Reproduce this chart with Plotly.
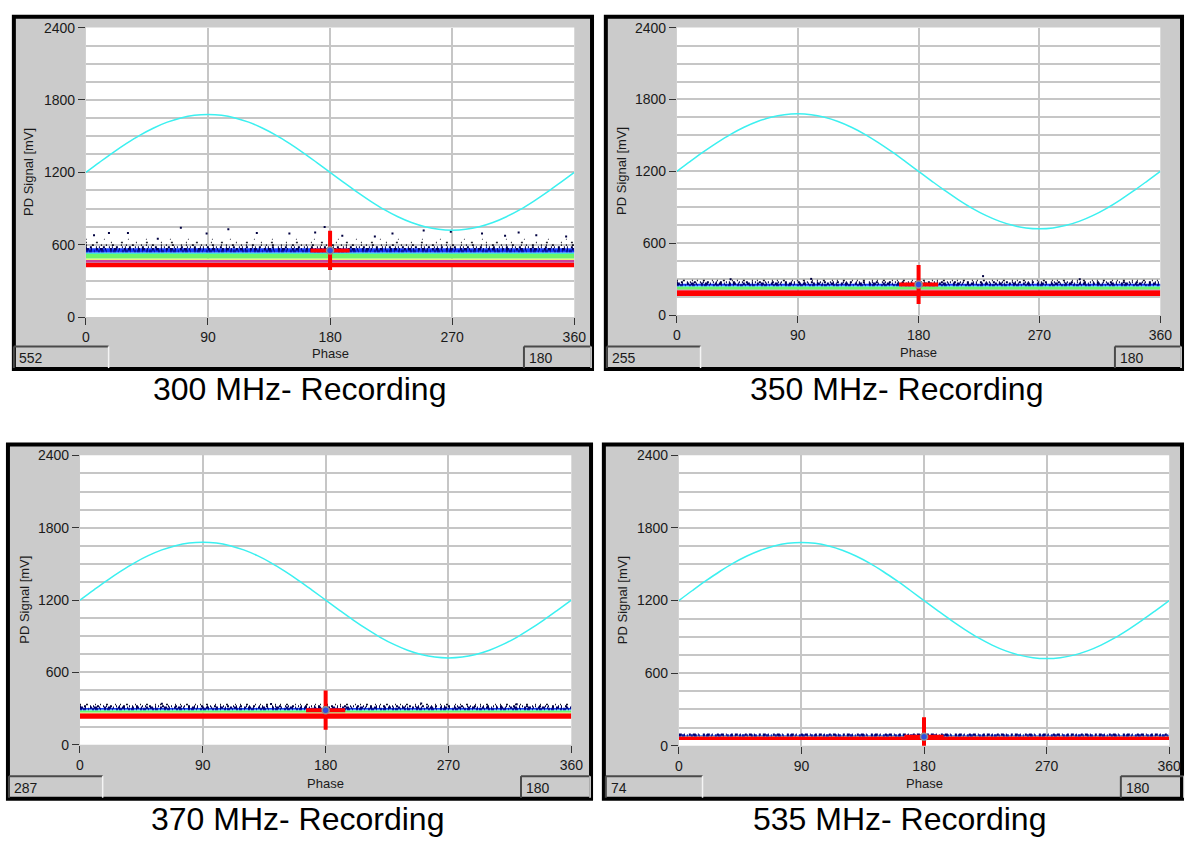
import plotly.graph_objects as go

W, H = 1196, 843

# ---------------- data ----------------
phase_deg = list(range(0, 361, 10))
sine_mV = [1200, 1283, 1364, 1440, 1509, 1568, 1616, 1651, 1673, 1680,
           1673, 1651, 1616, 1568, 1509, 1440, 1364, 1283, 1200,
           1117, 1036, 960, 891, 832, 784, 749, 727, 720,
           727, 749, 784, 832, 891, 960, 1036, 1117, 1200]

captions = ["300 MHz- Recording", "350 MHz- Recording",
            "370 MHz- Recording", "535 MHz- Recording"]
cursor_phase = [180, 180, 180, 180]
cursor_mV = [552, 255, 287, 74]

x_ticks = [0, 90, 180, 270, 360]
y_ticks = [0, 600, 1200, 1800, 2400]

band_names = ["red", "magenta", "yellow", "green", "cyan", "blue"]
# lower / upper edge of each density band per panel (mV), None = absent
band_lo = [
    [412, 452, 472, 486, 522, 536],
    [160, 208, None, 214, 236, 244],
    [215, None, 262, 268, 284, 292],
    [48, None, None, None, 78, 84],
]
band_hi = [
    [450, 472, 486, 522, 536, 570],
    [208, 214, None, 236, 244, 262],
    [262, None, 268, 284, 292, 305],
    [78, None, None, None, 84, 88],
]
# levels of the sparse dotted layers on top of each band (mV)
speckle_mV = [
    [548, 562, 578, 596, 618, 645],
    [250, 262, 274, 288],
    [296, 308, 320, 334],
    [86, 92],
]
# isolated outlier pulses (phase deg, mV)
outlier_phase = [
    [6, 17, 31, 53, 70, 89, 105, 126, 150, 169, 176, 189, 213, 226, 249, 269, 292, 309, 319, 332, 354],
    [40, 100, 228, 300],
    [60, 140, 250, 320],
    [],
]
outlier_mV = [
    [678, 697, 697, 650, 740, 692, 727, 697, 692, 700, 746, 675, 668, 692, 718, 708, 692, 675, 700, 678, 668],
    [300, 302, 325, 300],
    [340, 338, 342, 336],
    [],
]

# ---------------- styles / geometry ----------------
band_colors = {"red": "#FF0000", "magenta": "#C8409A", "yellow": "#EEF07A",
               "green": "#6CF56A", "cyan": "#3FE6D8", "blue": "#1A3CFF"}
speckle_styles = [
    ("#0a1aa8", "2px,1px,3px,2px,1px,3px", 2.4),
    ("#000070", "3px,2px,1px,4px,2px,2px", 2.4),
    ("#000040", "1px,3px,2px,4px,1px,2px", 2.0),
    ("#101020", "1px,5px,2px,7px,1px,4px", 1.6),
    ("#202030", "1px,9px,2px,13px", 1.4),
    ("#303040", "1px,17px,1px,23px", 1.2),
]
panels = [
    dict(outer=(8, 7, 598, 370), plot=(83, 20, 578, 315),
         lbox=(10, 345, 106, 367), rbox=(527, 345, 595, 367), ytitle_x=25, cap_y=388, phase_y=352),
    dict(outer=(608, 7, 1196, 370), plot=(682, 20, 1172, 313),
         lbox=(611, 345, 706, 367), rbox=(1126, 345, 1193, 367), ytitle_x=626, cap_y=388, phase_y=351),
    dict(outer=(2, 443, 597, 808), plot=(77, 456, 575, 751),
         lbox=(5, 783, 100, 805), rbox=(524, 783, 594, 805), ytitle_x=20, cap_y=827, phase_y=790),
    dict(outer=(606, 443, 1196, 808), plot=(684, 456, 1181, 752),
         lbox=(610, 783, 708, 805), rbox=(1132, 783, 1196, 805), ytitle_x=627, cap_y=827, phase_y=790),
]
cap_x = [300, 905, 297, 908]

FONT = "Liberation Sans, Arial, sans-serif"
GRID = "#C6C6C6"
PANEL_GRAY = "#CBCBCB"


def px(x):
    return x / W


def py(y):
    return 1 - y / H


fig = go.Figure()
shapes = []
annotations = []
layout_axes = {}

for i, p in enumerate(panels):
    n = "" if i == 0 else str(i + 1)
    xa, ya = "x" + n, "y" + n
    L, T, R, B = p["plot"]
    ox0, oy0, ox1, oy1 = p["outer"]

    # panel frame
    shapes.append(dict(type="rect", xref="paper", yref="paper", layer="below",
                       x0=px(ox0 + 2), x1=px(ox1 - 2), y0=py(oy1 - 2), y1=py(oy0 + 2),
                       line=dict(color="black", width=4), fillcolor=PANEL_GRAY))
    shapes.append(dict(type="rect", xref="paper", yref="paper", layer="below",
                       x0=px(L), x1=px(R), y0=py(B), y1=py(T),
                       line=dict(width=0), fillcolor="white"))
    # sunken value boxes
    for (bx0, by0, bx1, by1) in (p["lbox"], p["rbox"]):
        shapes.append(dict(type="line", xref="paper", yref="paper", layer="below",
                           x0=px(bx0), x1=px(bx1), y0=py(by0), y1=py(by0),
                           line=dict(color="#4a4a4a", width=2)))
        shapes.append(dict(type="line", xref="paper", yref="paper", layer="below",
                           x0=px(bx0), x1=px(bx0), y0=py(by0), y1=py(by1),
                           line=dict(color="#4a4a4a", width=2)))
        shapes.append(dict(type="line", xref="paper", yref="paper", layer="below",
                           x0=px(bx1), x1=px(bx1), y0=py(by0), y1=py(by1),
                           line=dict(color="#f4f4f4", width=1.5)))

    # axes
    layout_axes["xaxis" + n] = dict(
        domain=[px(L), px(R)], anchor=ya, range=[0, 360], tickvals=x_ticks,
        ticks="outside", ticklen=7, tickwidth=1, tickcolor="#333",
        showgrid=True, gridcolor=GRID, gridwidth=1.5, zeroline=False, showline=False,
        tickfont=dict(family=FONT, size=14, color="#1a1a1a"), fixedrange=True)
    layout_axes["yaxis" + n] = dict(
        domain=[py(B), py(T)], anchor=xa, range=[0, 2400], tickvals=y_ticks,
        ticks="outside", ticklen=7, tickwidth=1, tickcolor="#333",
        showgrid=True, gridcolor=GRID, gridwidth=1.5, zeroline=False, showline=False,
        minor=dict(tick0=0, dtick=150, showgrid=True, gridcolor=GRID, gridwidth=1.5, ticks=""),
        tickfont=dict(family=FONT, size=14, color="#1a1a1a"), fixedrange=True)

    # density bands
    for k, name in enumerate(band_names):
        lo, hi = band_lo[i][k], band_hi[i][k]
        if lo is None:
            continue
        fig.add_trace(go.Scatter(x=[0, 360], y=[lo, lo], mode="lines", line=dict(width=0),
                                 xaxis=xa, yaxis=ya, showlegend=False, hoverinfo="skip"))
        fig.add_trace(go.Scatter(x=[0, 360], y=[hi, hi], mode="lines", line=dict(width=0),
                                 fill="tonexty", fillcolor=band_colors[name],
                                 xaxis=xa, yaxis=ya, showlegend=False, hoverinfo="skip"))
    # dotted pulse layers
    for k, lvl in enumerate(speckle_mV[i]):
        col, dash, wdt = speckle_styles[k % len(speckle_styles)]
        fig.add_trace(go.Scatter(x=[0, 360], y=[lvl, lvl], mode="lines",
                                 line=dict(color=col, width=wdt, dash=dash),
                                 xaxis=xa, yaxis=ya, showlegend=False, hoverinfo="skip"))
    if outlier_phase[i]:
        fig.add_trace(go.Scatter(x=outlier_phase[i], y=outlier_mV[i], mode="markers",
                                 marker=dict(symbol="square", size=2, color="#000040"),
                                 xaxis=xa, yaxis=ya, showlegend=False, hoverinfo="skip"))
    # reference sine
    fig.add_trace(go.Scatter(x=phase_deg, y=sine_mV, mode="lines",
                             line=dict(color="#3CF0F0", width=1.5, shape="spline"),
                             xaxis=xa, yaxis=ya, showlegend=False, hoverinfo="skip"))
    # cursor
    fig.add_trace(go.Scatter(x=[cursor_phase[i]], y=[cursor_mV[i]], mode="markers",
                             marker=dict(symbol="cross-thin", size=28,
                                         line=dict(color="#FF0000", width=4)),
                             xaxis=xa, yaxis=ya, showlegend=False, hoverinfo="skip"))
    fig.add_trace(go.Scatter(x=[cursor_phase[i]], y=[cursor_mV[i]], mode="markers",
                             marker=dict(symbol="circle", size=7, color="#3050e0",
                                         line=dict(color="#909090", width=1.5)),
                             xaxis=xa, yaxis=ya, showlegend=False, hoverinfo="skip"))

    # texts
    annotations.append(dict(text="Phase", xref="paper", yref="paper",
                            x=px((L + R) / 2), y=py(p["phase_y"]), showarrow=False,
                            xanchor="center", yanchor="middle",
                            font=dict(family=FONT, size=13, color="#1a1a1a")))
    annotations.append(dict(text="PD Signal [mV]", xref="paper", yref="paper",
                            x=px(p["ytitle_x"]), y=py((T + B) / 2), showarrow=False,
                            textangle=-90, xanchor="center", yanchor="middle",
                            font=dict(family=FONT, size=13, color="#1a1a1a")))
    lb, rb = p["lbox"], p["rbox"]
    annotations.append(dict(text=str(cursor_mV[i]), xref="paper", yref="paper",
                            x=px(lb[0] + 3), y=py((lb[1] + lb[3]) / 2 + 1), showarrow=False,
                            xanchor="left", yanchor="middle",
                            font=dict(family=FONT, size=14, color="#1a1a1a")))
    annotations.append(dict(text=str(cursor_phase[i]), xref="paper", yref="paper",
                            x=px(rb[0] + 3), y=py((rb[1] + rb[3]) / 2 + 1), showarrow=False,
                            xanchor="left", yanchor="middle",
                            font=dict(family=FONT, size=14, color="#1a1a1a")))
    annotations.append(dict(text=captions[i], xref="paper", yref="paper",
                            x=px(cap_x[i]), y=py(p["cap_y"]), showarrow=False,
                            xanchor="center", yanchor="middle",
                            font=dict(family=FONT, size=32, color="#000000")))

fig.update_layout(
    width=W, height=H, margin=dict(l=0, r=0, t=0, b=0),
    paper_bgcolor="white", plot_bgcolor="rgba(0,0,0,0)",
    shapes=shapes, annotations=annotations, showlegend=False,
    **layout_axes)

fig.write_html("out.html")
